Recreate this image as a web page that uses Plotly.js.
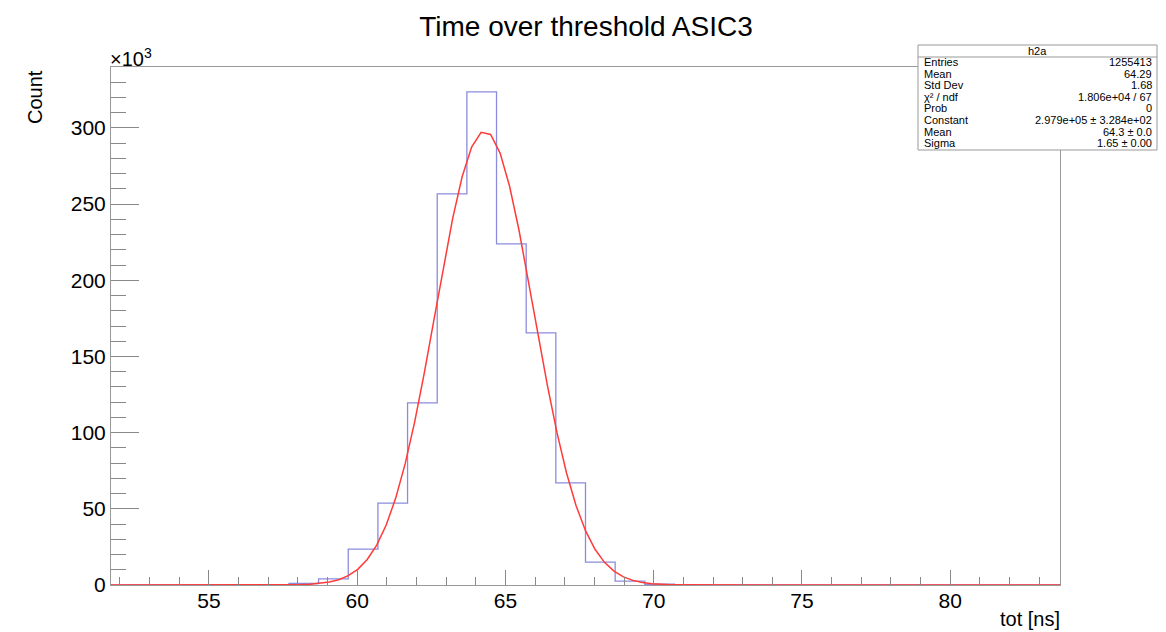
<!DOCTYPE html>
<html><head><meta charset="utf-8">
<script src="https://cdn.plot.ly/plotly-3.0.1.min.js"></script>
<style>html,body{margin:0;padding:0;background:#fff}#c{width:1166px;height:632px}</style>
</head><body><div id="c"></div>
<script>
// Histogram h2a: bin low edges (ns) and counts (x10^3)
const binLow = [51.7,52.7,53.7,54.7,55.7,56.7,57.7,58.7,59.7,60.7,61.7,62.7,63.7,64.7,65.7,66.7,67.7,68.7,69.7,70.7,71.7,72.7,73.7,74.7,75.7,76.7,77.7,78.7,79.7,80.7,81.7,82.7];
const counts = [0,0,0,0,0,0,1.0,4.0,23.6,53.8,119.5,256.7,323.7,223.9,165.5,67.0,15.0,2.5,0.5,0,0,0,0,0,0,0,0,0,0,0,0,0];
const binWidth = 1.0;
// Gaussian fit parameters (from stats box)
const fitConstant = 297.9; // x10^3
const fitMean = 64.3;
const fitSigma = 1.65;
const statsLabels = ["Entries","Mean","Std Dev","χ² / ndf","Prob","Constant","Mean","Sigma"];
const statsValues = ["1255413","64.29","1.68","1.806e+04 / 67","0","2.979e+05 ± 3.284e+02","64.3 ± 0.0","1.65 ± 0.00"];
const xTicks = [55,60,65,70,75,80];
const yTicks = [0,50,100,150,200,250,300];

const xMin = binLow[0], xMax = binLow[binLow.length-1] + binWidth;

// step outline
const hx = binLow.concat([xMax]);
const hy = counts.concat([counts[counts.length-1]]);

// fit curve drawn as ROOT polyline (100 points)
const npx = 100, fx = [], fy = [];
for (let i = 0; i <= npx; i++) {
  const x = xMin + (xMax - xMin) * i / npx;
  fx.push(x);
  fy.push(fitConstant * Math.exp(-0.5 * Math.pow((x - fitMean) / fitSigma, 2)));
}

const L = 111, R = 1060, T = 67, B = 585, W = 1166, H = 632;
const px = x => (x - L) / (R - L);
const py = y => (B - y) / (B - T);
const FF = 'Liberation Sans, Arial';

const shapes = [
  {type:'rect', xref:'paper', yref:'paper', x0:px(918), x1:px(1157), y0:py(150), y1:py(45), line:{color:'#999', width:1}, fillcolor:'#fff', layer:'above'},
  {type:'line', xref:'paper', yref:'paper', x0:px(918), x1:px(1157), y0:py(57), y1:py(57), line:{color:'#999', width:1}, layer:'above'}
];
const ann = [
  {xref:'paper', yref:'paper', x:px(1037), y:py(51), text:'h2a', showarrow:false, font:{size:11, color:'#000', family:FF}, xanchor:'center', yanchor:'middle'},
  {xref:'paper', yref:'paper', x:px(108), y:py(57), text:'×10<sup>3</sup>', showarrow:false, font:{size:20, color:'#000', family:FF}, xanchor:'left', yanchor:'middle'},
  {xref:'paper', yref:'paper', x:px(35), y:py(97), text:'Count', textangle:-90, showarrow:false, font:{size:20, color:'#000', family:FF}, xanchor:'center', yanchor:'middle'},
  {xref:'paper', yref:'paper', x:px(1062), y:py(619), text:'tot [ns]', showarrow:false, font:{size:20, color:'#000', family:FF}, xanchor:'right', yanchor:'middle'}
];
for (let i = 0; i < statsLabels.length; i++) {
  const yy = py(62 + i * 11.6);
  ann.push({xref:'paper', yref:'paper', x:px(922), y:yy, text:statsLabels[i], showarrow:false, xanchor:'left', yanchor:'middle', font:{size:11, color:'#000', family:FF}});
  ann.push({xref:'paper', yref:'paper', x:px(1154), y:yy, text:statsValues[i], showarrow:false, xanchor:'right', yanchor:'middle', font:{size:11, color:'#000', family:FF}});
}

const data = [
  {x:hx, y:hy, type:'scatter', mode:'lines', line:{shape:'hv', color:'#8c8cdc', width:1.3}, hoverinfo:'skip'},
  {x:fx, y:fy, type:'scatter', mode:'lines', line:{color:'#ff3a3a', width:1.5}, hoverinfo:'skip'}
];
const layout = {
  width:W, height:H, showlegend:false,
  paper_bgcolor:'#fff', plot_bgcolor:'#fff',
  margin:{l:L, r:W-R, t:T, b:H-B, pad:0},
  title:{text:'Time over threshold ASIC3', x:px(586), xref:'paper', xanchor:'center', y:1-26/H, yanchor:'middle', font:{size:28, color:'#000', family:FF}},
  font:{family:FF, color:'#000'},
  xaxis:{range:[xMin, xMax], tickmode:'array', tickvals:xTicks, ticktext:xTicks.map(String),
    ticks:'inside', ticklen:15, tickcolor:'#888', tickwidth:1, ticklabelstandoff:-3,
    minor:{dtick:1, tick0:0, ticks:'inside', ticklen:8, tickcolor:'#888', showgrid:false},
    showline:true, linecolor:'#999', linewidth:1, mirror:true, showgrid:false, zeroline:false,
    tickfont:{size:21, color:'#000'}, fixedrange:true},
  yaxis:{range:[0, 340], tickmode:'array', tickvals:yTicks, ticktext:yTicks.map(String),
    ticks:'inside', ticklen:28, tickcolor:'#888', tickwidth:1,
    minor:{dtick:10, tick0:0, ticks:'inside', ticklen:15, tickcolor:'#888', showgrid:false},
    showline:true, linecolor:'#999', linewidth:1, mirror:true, showgrid:false, zeroline:false,
    tickfont:{size:21, color:'#000'}, fixedrange:true},
  shapes:shapes, annotations:ann
};
Plotly.newPlot('c', data, layout, {displayModeBar:false, staticPlot:true});
</script></body></html>
